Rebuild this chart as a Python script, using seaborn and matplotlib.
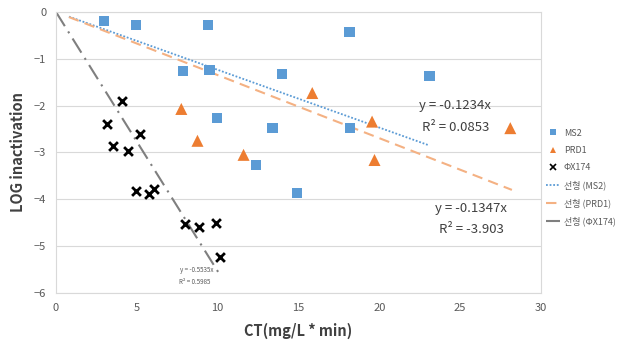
import numpy as np
import pandas as pd
import seaborn as sns
import matplotlib.pyplot as plt

# data
ms2_ct = [2.96, 4.94, 9.38, 7.84, 9.5, 9.94, 14.0, 12.35, 13.4, 14.9, 18.15, 23.1, 18.2]
ms2_log = [-0.19, -0.28, -0.28, -1.26, -1.24, -2.26, -1.32, -3.27, -2.48, -3.87, -0.43, -1.37, -2.48]

prd1_ct = [7.75, 8.75, 11.6, 15.85, 19.55, 19.7, 28.1]
prd1_log = [-2.07, -2.75, -3.05, -1.73, -2.34, -3.16, -2.48]

phi_ct = [4.07, 3.15, 3.5, 4.45, 5.19, 4.94, 5.74, 6.05, 8.0, 8.83, 9.88, 10.12]
phi_log = [-1.9, -2.39, -2.86, -2.96, -2.61, -3.83, -3.89, -3.78, -4.53, -4.59, -4.5, -5.23]

# linear trendlines through origin (slope, R², drawn x range)
slopes = {"MS2": -0.1234, "PRD1": -0.1347, "ΦX174": -0.5535}
r2 = {"MS2": "0.0853", "PRD1": "-3.903", "ΦX174": "0.5985"}
fit_range = {"MS2": [0.8, 23.0], "PRD1": [0.8, 28.2], "ΦX174": [0.0, 10.2]}

df = pd.DataFrame({
    "CT": ms2_ct + prd1_ct + phi_ct,
    "LOG": ms2_log + prd1_log + phi_log,
    "virus": ["MS2"] * len(ms2_ct) + ["PRD1"] * len(prd1_ct) + ["ΦX174"] * len(phi_ct),
})

sns.set_theme(style="white")
plt.rcParams["font.family"] = ["Noto Sans CJK KR", "DejaVu Sans"]

fig = plt.figure(figsize=(6.21, 3.46), dpi=100)
ax = fig.add_axes([0.0902, 0.1532, 0.781, 0.8121])

pal = {"MS2": "#5B9BD5", "PRD1": "#ED7D31", "ΦX174": "black"}
marks = {"MS2": "s", "PRD1": "^", "ΦX174": "x"}
sizes = {"MS2": 55, "PRD1": 75, "ΦX174": 40}

for v in ["MS2", "PRD1", "ΦX174"]:
    sub = df[df["virus"] == v]
    sns.scatterplot(data=sub, x="CT", y="LOG", color=pal[v], marker=marks[v],
                    s=sizes[v], linewidth=2 if v == "ΦX174" else 0,
                    edgecolor=pal[v] if v == "ΦX174" else "none",
                    ax=ax, label=v, zorder=3, legend=False)

line_style = {
    "MS2": dict(color="#5B9BD5", linestyle=(0, (1, 1)), linewidth=1.3),
    "PRD1": dict(color="#F4B183", linestyle=(0, (5, 3)), linewidth=1.5),
    "ΦX174": dict(color="#7F7F7F", linestyle=(0, (8, 3, 1, 3)), linewidth=1.5),
}
for v in ["MS2", "PRD1", "ΦX174"]:
    xs = np.array(fit_range[v])
    ax.plot(xs, slopes[v] * xs, zorder=2, **line_style[v])

# trendline equations
ax.text(24.7, -2.0, f"y = {slopes['MS2']}x", fontsize=9.5, color="#404040", ha="center", va="center")
ax.text(24.7, -2.46, f"R² = {r2['MS2']}", fontsize=9.5, color="#404040", ha="center", va="center")
ax.text(25.7, -4.19, f"y = {slopes['PRD1']}x", fontsize=9.5, color="#404040", ha="center", va="center")
ax.text(25.7, -4.64, f"R² = {r2['PRD1']}", fontsize=9.5, color="#404040", ha="center", va="center")
ax.text(8.7, -5.51, f"y = {slopes['ΦX174']}x", fontsize=4.5, color="#595959", ha="center", va="center")
ax.text(8.6, -5.77, f"R² = {r2['ΦX174']}", fontsize=4.5, color="#595959", ha="center", va="center")

ax.set_xlim(0, 30)
ax.set_ylim(-6, 0)
ax.set_xticks(range(0, 31, 5))
ax.set_yticks(range(-6, 1))
ax.yaxis.grid(True, color="#D9D9D9", linewidth=0.8)
ax.set_axisbelow(True)
for s in ax.spines.values():
    s.set_color("#D9D9D9")
    s.set_linewidth(0.8)
ax.tick_params(axis="both", labelsize=8, colors="#595959", length=0, pad=7)

ax.set_xlabel("CT(mg/L * min)", fontsize=10.5, fontweight="bold", color="#404040", labelpad=7)
ax.set_ylabel("LOG inactivation", fontsize=10.5, fontweight="bold", color="#404040", labelpad=6)

handles, labels = [], []
for v in ["MS2", "PRD1", "ΦX174"]:
    h, = ax.plot([], [], marker=marks[v], color=pal[v], linestyle="none",
                 markersize=4, markeredgewidth=1.2 if v == "ΦX174" else 0)
    handles.append(h)
    labels.append(v)
for v in ["MS2", "PRD1", "ΦX174"]:
    h, = ax.plot([], [], **line_style[v])
    handles.append(h)
    labels.append(f"선형 ({v})")

leg = ax.legend(handles, labels, loc="upper left", bbox_to_anchor=(1.01, 0.585),
                frameon=False, fontsize=6.5, handlelength=1.6, labelspacing=0.9,
                handletextpad=0.4, borderaxespad=0, borderpad=0)
for t in leg.get_texts():
    t.set_color("#595959")

fig.savefig("out.png", dpi=100)
